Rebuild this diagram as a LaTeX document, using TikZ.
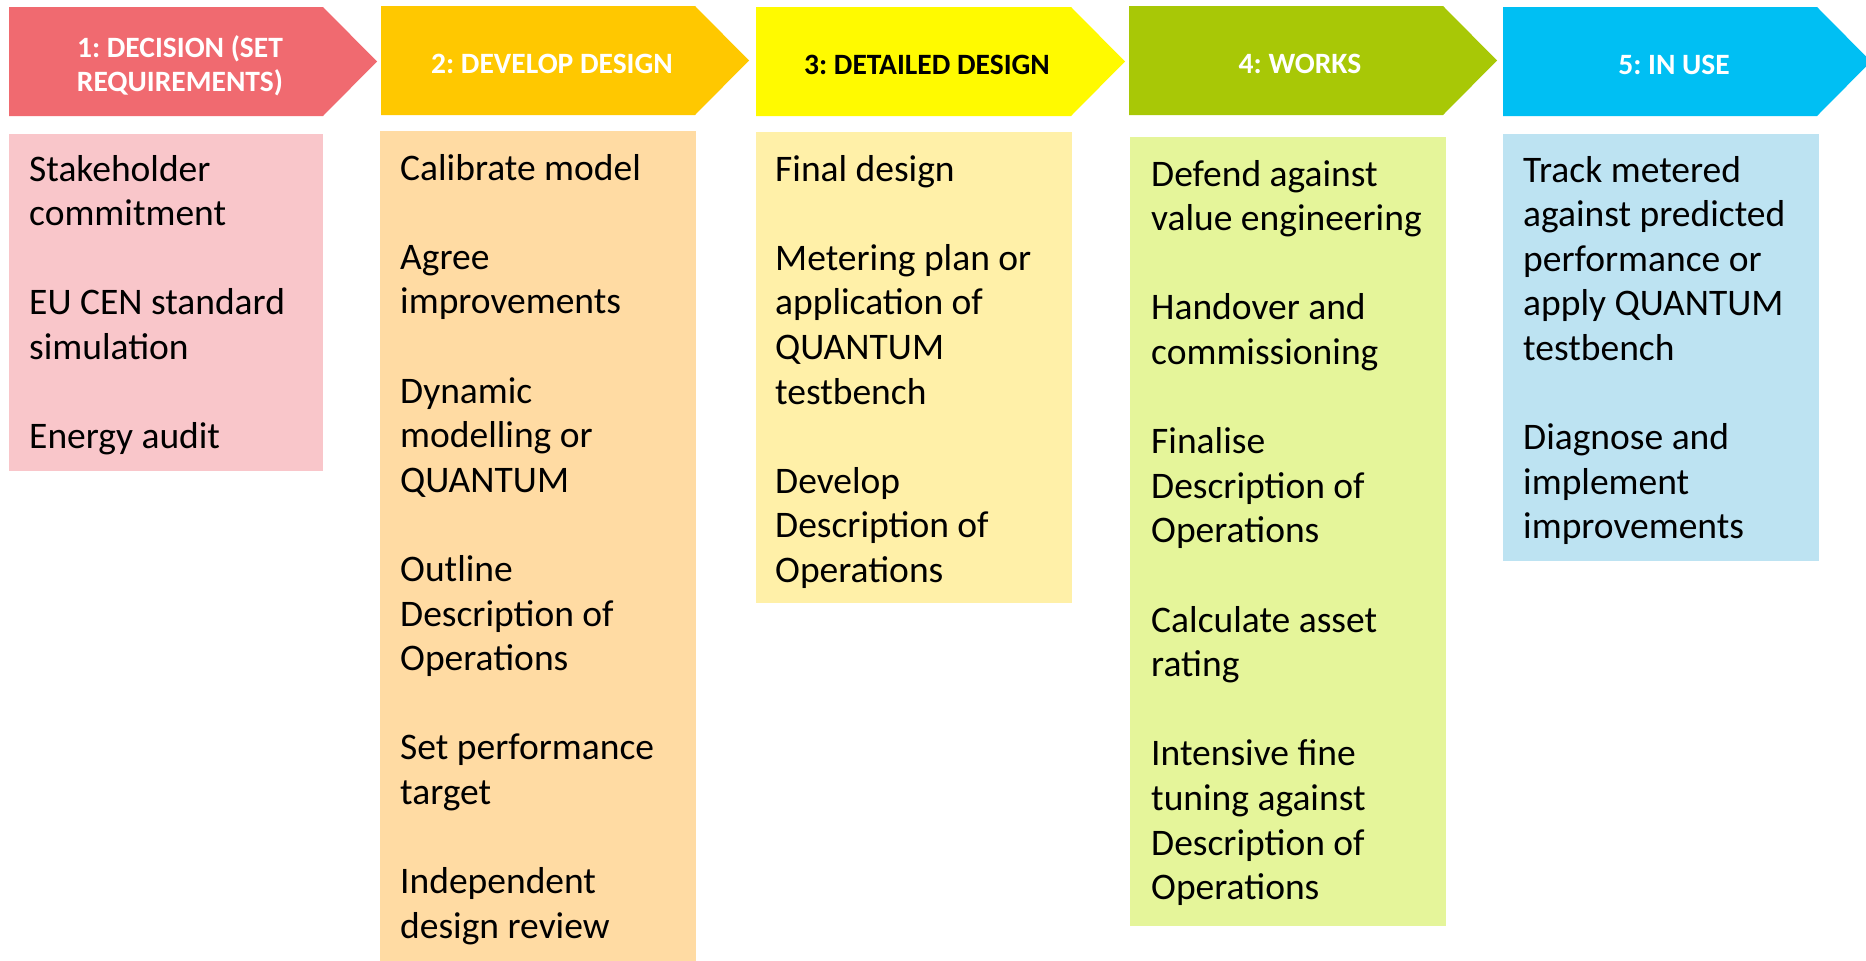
\documentclass[tikz,border=0pt]{standalone}
\usepackage{fontspec}
\setmainfont{Carlito}
\frenchspacing
\definecolor{hA}{HTML}{F06A70}
\definecolor{bA}{HTML}{F9C6CA}
\definecolor{hB}{HTML}{FFC800}
\definecolor{bB}{HTML}{FFDBA3}
\definecolor{hC}{HTML}{FFFA00}
\definecolor{bC}{HTML}{FFF0A8}
\definecolor{hD}{HTML}{A8C806}
\definecolor{bD}{HTML}{E5F59A}
\definecolor{hE}{HTML}{00BFF3}
\definecolor{bE}{HTML}{BDE3F2}
\newcommand\colbody[1]{\parbox[t]{420pt}{\raggedright\frenchspacing #1}}
\newcommand\itemgap{\\[44.6pt]}
\begin{document}
\begin{tikzpicture}[x=1pt,y=-1pt,
  hdr/.style={inner sep=0pt, anchor=base, text=white,
    font=\fontsize{29.5}{34}\selectfont\bfseries\frenchspacing},
  bodytext/.style={inner sep=0pt, anchor=base west, text=black,
    font=\fontsize{37.5}{44.6}\selectfont}]
\useasboundingbox (0,0) rectangle (1866,961);
\fill[white] (0,0) rectangle (1866,961);
\clip (0,0) rectangle (1866,961);
% header chevrons
\fill[hA] (9,7) -- (323,7) -- (377,61.5) -- (323,116) -- (9,116) -- cycle;
\fill[hB] (381,6) -- (695,6) -- (749,60.5) -- (695,115) -- (381,115) -- cycle;
\fill[hC] (756,7) -- (1071,7) -- (1125,61.5) -- (1071,116) -- (756,116) -- cycle;
\fill[hD] (1129,6) -- (1443,6) -- (1497,60.5) -- (1443,115) -- (1129,115) -- cycle;
\fill[hE] (1503,7) -- (1817,7) -- (1871,61.5) -- (1817,116) -- (1503,116) -- cycle;
% body boxes
\fill[bA] (9,134) rectangle (323,471);
\fill[bB] (380,131) rectangle (696,965);
\fill[bC] (756,132) rectangle (1072,603);
\fill[bD] (1130,137) rectangle (1446,926);
\fill[bE] (1503,134) rectangle (1819,561);
% header texts
\node[hdr] (h1) at (180,57) {\parbox[t]{340pt}{\centering 1: DECISION (SET\\REQUIREMENTS)}};
\node[hdr] (h2) at (552,73) {2: DEVELOP DESIGN};
\node[hdr, text=black] (h3) at (927,74) {3: DETAILED DESIGN};
\node[hdr] (h4) at (1300,73) {4: WORKS};
\node[hdr] (h5) at (1674,74) {5: IN USE};
% body texts
\node[bodytext] (t1) at (29,181) {\colbody{Stakeholder\\commitment\itemgap EU CEN standard\\simulation\itemgap Energy audit}};
\node[bodytext] (t2) at (400,180) {\colbody{Calibrate model\itemgap Agree\\improvements\itemgap Dynamic\\modelling or\\QUANTUM\itemgap Outline\\Description of\\Operations\itemgap Set performance\\target\itemgap Independent\\design review}};
\node[bodytext] (t3) at (775,181) {\colbody{Final design\itemgap Metering plan or\\application of\\QUANTUM\\testbench\itemgap Develop\\Description of\\Operations}};
\node[bodytext] (t4) at (1151,186) {\colbody{Defend against\\value engineering\itemgap Handover and\\commissioning\itemgap Finalise\\Description of\\Operations\itemgap Calculate asset\\rating\itemgap Intensive fine\\tuning against\\Description of\\Operations}};
\node[bodytext] (t5) at (1523,182) {\colbody{Track metered\\against predicted\\performance or\\apply QUANTUM\\testbench\itemgap Diagnose and\\implement\\improvements}};
\end{tikzpicture}
\end{document}
